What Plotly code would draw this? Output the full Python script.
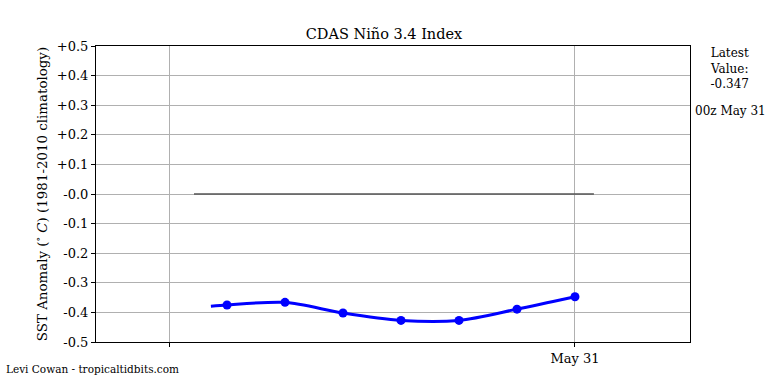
import plotly.graph_objects as go

# Data
dates = ["2024-05-25", "2024-05-26", "2024-05-27", "2024-05-28", "2024-05-29", "2024-05-30", "2024-05-31"]
values = [-0.375, -0.366, -0.402, -0.427, -0.427, -0.389, -0.347]
line_dates = ["2024-05-24 17:20"] + dates
line_values = [-0.379] + values
zero_dates = ["2024-05-24 10:20", "2024-05-31 07:50"]
zero_values = [0.0, 0.0]
ytick_vals = [0.5, 0.4, 0.3, 0.2, 0.1, 0.0, -0.1, -0.2, -0.3, -0.4, -0.5]
ytick_text = ["+0.5", "+0.4", "+0.3", "+0.2", "+0.1", "-0.0", "-0.1", "-0.2", "-0.3", "-0.4", "-0.5"]
xtick_vals = ["2024-05-24", "2024-05-31"]
xtick_text = [" ", "May 31"]
x_range = ["2024-05-22 17:47", "2024-06-01 23:36"]

FONT = "DejaVu Serif"

fig = go.Figure()
fig.add_trace(go.Scatter(x=zero_dates, y=zero_values, mode="lines",
                         line=dict(color="#555555", width=1.3), hoverinfo="skip"))
fig.add_trace(go.Scatter(x=line_dates, y=line_values, mode="lines",
                         line=dict(color="#0000ff", width=3, shape="spline", smoothing=0.8)))
fig.add_trace(go.Scatter(x=dates, y=values, mode="markers",
                         marker=dict(color="#0000ff", size=9)))

fig.update_layout(
    width=768, height=384,
    margin=dict(l=96, r=78, t=46, b=42, autoexpand=False),
    paper_bgcolor="white", plot_bgcolor="white",
    showlegend=False,
    font=dict(family=FONT, size=13, color="black"),
    title=dict(text="CDAS Niño 3.4 Index", x=0.5, xanchor="center",
               y=1 - 34/384, yanchor="middle", font=dict(family=FONT, size=14.5)),
    xaxis=dict(type="date", range=x_range, tickvals=xtick_vals, ticktext=xtick_text,
               automargin=False,
               showgrid=True, gridcolor="#b0b0b0", gridwidth=1,
               showline=True, linecolor="black", linewidth=1, mirror=True,
               ticks="outside", ticklen=4, tickcolor="black", zeroline=False,
               tickfont=dict(family=FONT, size=13)),
    yaxis=dict(range=[-0.5, 0.5], tickvals=ytick_vals, ticktext=ytick_text,
               automargin=False,
               showgrid=True, gridcolor="#b0b0b0", gridwidth=1,
               showline=True, linecolor="black", linewidth=1, mirror=True,
               ticks="outside", ticklen=4, tickcolor="black", zeroline=False,
               tickfont=dict(family=FONT, size=13),
               title=dict(text="SST Anomaly (<sup>∘</sup> <i>C</i>) (1981-2010 climatology)",
                          font=dict(family=FONT, size=13.4), standoff=6)),
)

fig.add_annotation(text="Latest<br>Value:<br>-0.347", xref="paper", yref="paper",
                   x=(729 - 96) / 594, y=(384 - 44 - 42) / 296, xanchor="center", yanchor="top",
                   showarrow=False, font=dict(family=FONT, size=12), align="center")
fig.add_annotation(text="00z May 31", xref="paper", yref="paper",
                   x=(730 - 96) / 594, y=(384 - 111 - 42) / 296, xanchor="center", yanchor="middle",
                   showarrow=False, font=dict(family=FONT, size=12))
fig.add_annotation(text="Levi Cowan - tropicaltidbits.com", xref="paper", yref="paper",
                   x=(4 - 96) / 594, y=(384 - 369 - 42) / 296, xanchor="left", yanchor="middle",
                   showarrow=False, font=dict(family=FONT, size=10.5))

fig.write_html("out.html", config={"displayModeBar": False},
               post_script="document.body.style.margin='0';document.body.style.overflow='hidden';")
